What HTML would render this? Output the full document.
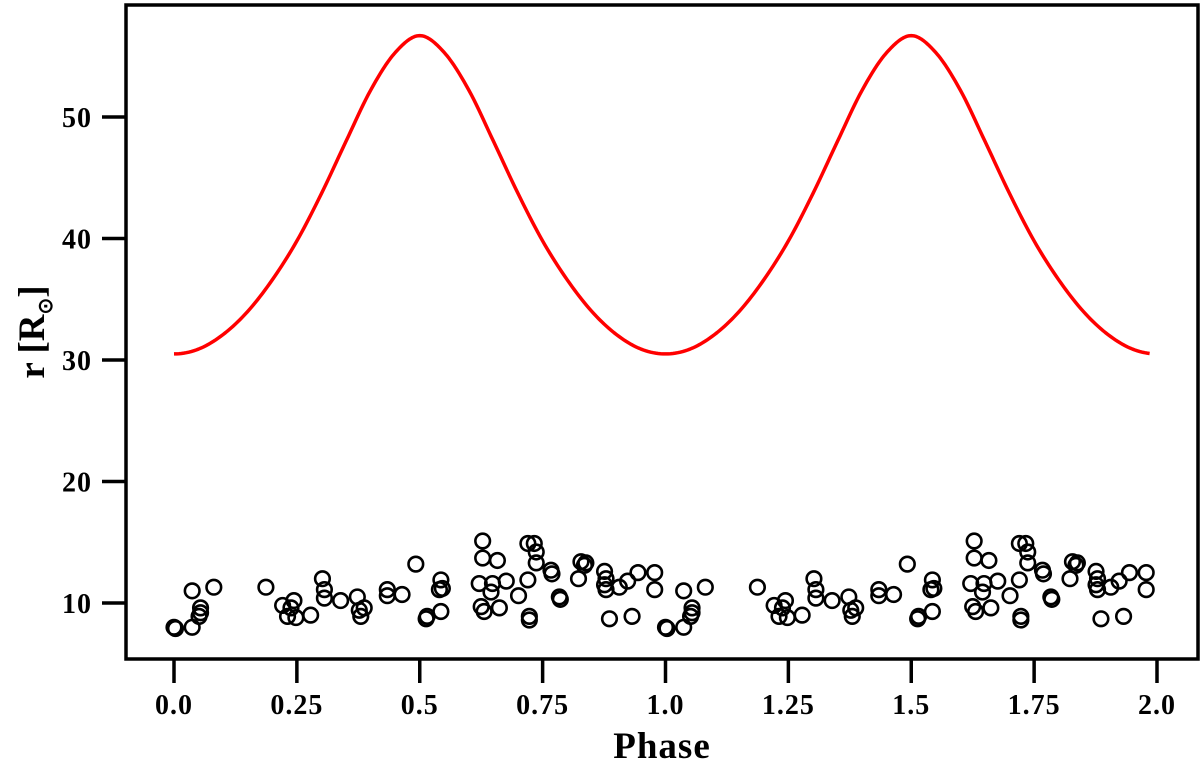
<!DOCTYPE html>
<html><head><meta charset="utf-8"><style>
body{margin:0;background:#fff}
svg text{font-family:"Liberation Serif",serif;font-weight:bold;fill:#000}
</style></head><body>
<svg id="chart" width="1200" height="768" xmlns="http://www.w3.org/2000/svg"></svg>
<script>
const curvePhases=[0,0.05,0.1,0.15,0.2,0.25,0.3,0.35,0.4,0.45,0.5,0.55,0.6,0.65,0.7,0.75,0.8,0.85,0.9,0.95,1.0];
const curveRadius=[30.5,30.9,32.1,34.0,36.6,39.8,43.7,48.0,52.2,55.3,56.7,55.3,52.2,48.0,43.7,39.8,36.6,34.0,32.1,30.9,30.5];
const obsPhase=[0,0.003,0.037,0.037,0.081,0.054,0.054,0.051,0.187,0.221,0.231,0.238,0.244,0.248,0.278,0.302,0.306,0.306,0.339,0.373,0.377,0.380,0.387,0.434,0.434,0.464,0.492,0.513,0.515,0.543,0.543,0.540,0.546,0.628,0.628,0.658,0.621,0.631,0.625,0.645,0.648,0.676,0.662,0.701,0.720,0.733,0.737,0.737,0.720,0.723,0.723,0.767,0.769,0.784,0.786,0.823,0.828,0.838,0.835,0.876,0.879,0.876,0.879,0.906,0.923,0.944,0.978,0.978,0.886,0.932];
const obsRadius=[8.0,7.9,8.0,11.0,11.3,9.6,9.2,8.9,11.3,9.8,8.9,9.6,10.2,8.8,9.0,12.0,11.1,10.4,10.2,10.5,9.4,8.9,9.6,11.1,10.6,10.7,13.2,8.7,8.9,9.3,11.9,11.1,11.2,15.1,13.7,13.5,11.6,9.3,9.7,10.9,11.6,11.8,9.6,10.6,14.9,14.9,14.2,13.3,11.9,8.9,8.6,12.7,12.4,10.5,10.3,12.0,13.4,13.3,13.1,12.6,12.0,11.5,11.1,11.3,11.8,12.5,12.5,11.1,8.7,8.9];
const xTicks=[0,0.25,0.5,0.75,1.0,1.25,1.5,1.75,2.0];
const xTickLabels=["0.0","0.25","0.5","0.75","1.0","1.25","1.5","1.75","2.0"];
const yTicks=[10,20,30,40,50];
const NS="http://www.w3.org/2000/svg";
const svg=document.getElementById('chart');
const L=126,R=1198,T=5,B=659;
const xs=p=>174+p*491.5;
const ys=v=>603-(v-10)*12.15;
function mk(t,a){const e=document.createElementNS(NS,t);for(const k in a)e.setAttribute(k,a[k]);svg.appendChild(e);return e;}
// curve (monotone-ish smooth through samples)
let pts=[];
for(let c=0;c<2;c++)for(let i=0;i<curvePhases.length;i++){if(c===1&&i===0)continue;pts.push([xs(curvePhases[i]+c),ys(curveRadius[i])]);}
// cubic Hermite with centered slopes, sampled densely
let d="";
const n=pts.length;
function slope(i){if(i===0||i===n-1)return 0;return (pts[i+1][1]-pts[i-1][1])/(pts[i+1][0]-pts[i-1][0]);}
const xEnd=xs(1.985);
for(let i=0;i<n-1;i++){const x0=pts[i][0],x1=pts[i+1][0],y0=pts[i][1],y1=pts[i+1][1],h=x1-x0,m0=slope(i),m1=slope(i+1);
for(let k=0;k<=10;k++){const t=k/10,x=x0+t*h;if(x>xEnd)break;
const h00=2*t*t*t-3*t*t+1,h10=t*t*t-2*t*t+t,h01=-2*t*t*t+3*t*t,h11=t*t*t-t*t;
const y=h00*y0+h10*h*m0+h01*y1+h11*h*m1;
d+=(d?" L":"M")+x.toFixed(2)+","+y.toFixed(2);}}
const cv=mk('path',{d:d,fill:'none',stroke:'#ff0000','stroke-width':3.5,'stroke-linejoin':'round'});


// points
for(let c=0;c<2;c++)for(let i=0;i<obsPhase.length;i++){
const ci=mk('circle',{cx:xs(obsPhase[i]+c),cy:ys(obsRadius[i]),r:7.3,fill:'none',stroke:'#000','stroke-width':2.6});

}
// frame
const fr=mk('rect',{x:L,y:T,width:R-L,height:B-T,fill:'none',stroke:'#000','stroke-width':3.5});


for(let i=0;i<xTicks.length;i++){const x=xs(xTicks[i]);
const tk=mk('line',{x1:x,x2:x,y1:B,y2:683,stroke:'#000','stroke-width':3.5});


const tl=mk('text',{x:x,y:714,'text-anchor':'middle','font-size':28,'letter-spacing':1});tl.textContent=xTickLabels[i];

}
for(const v of yTicks){const y=ys(v);
const tk=mk('line',{x1:102,x2:L,y1:y,y2:y,stroke:'#000','stroke-width':3.5});


const tl=mk('text',{x:92,y:y+10,'text-anchor':'end','font-size':28,'letter-spacing':1});tl.textContent=v;

}
const xt=mk('text',{x:662,y:758,'text-anchor':'middle','font-size':37,'letter-spacing':1});xt.textContent='Phase';


const yt=mk('text',{x:0,y:0,'text-anchor':'middle','font-size':37,transform:'translate(44,332) rotate(-90)'});
yt.innerHTML='r [R<tspan font-size="20" dy="8">⊙</tspan><tspan dy="-8">]</tspan>';


</script>
</body></html>
